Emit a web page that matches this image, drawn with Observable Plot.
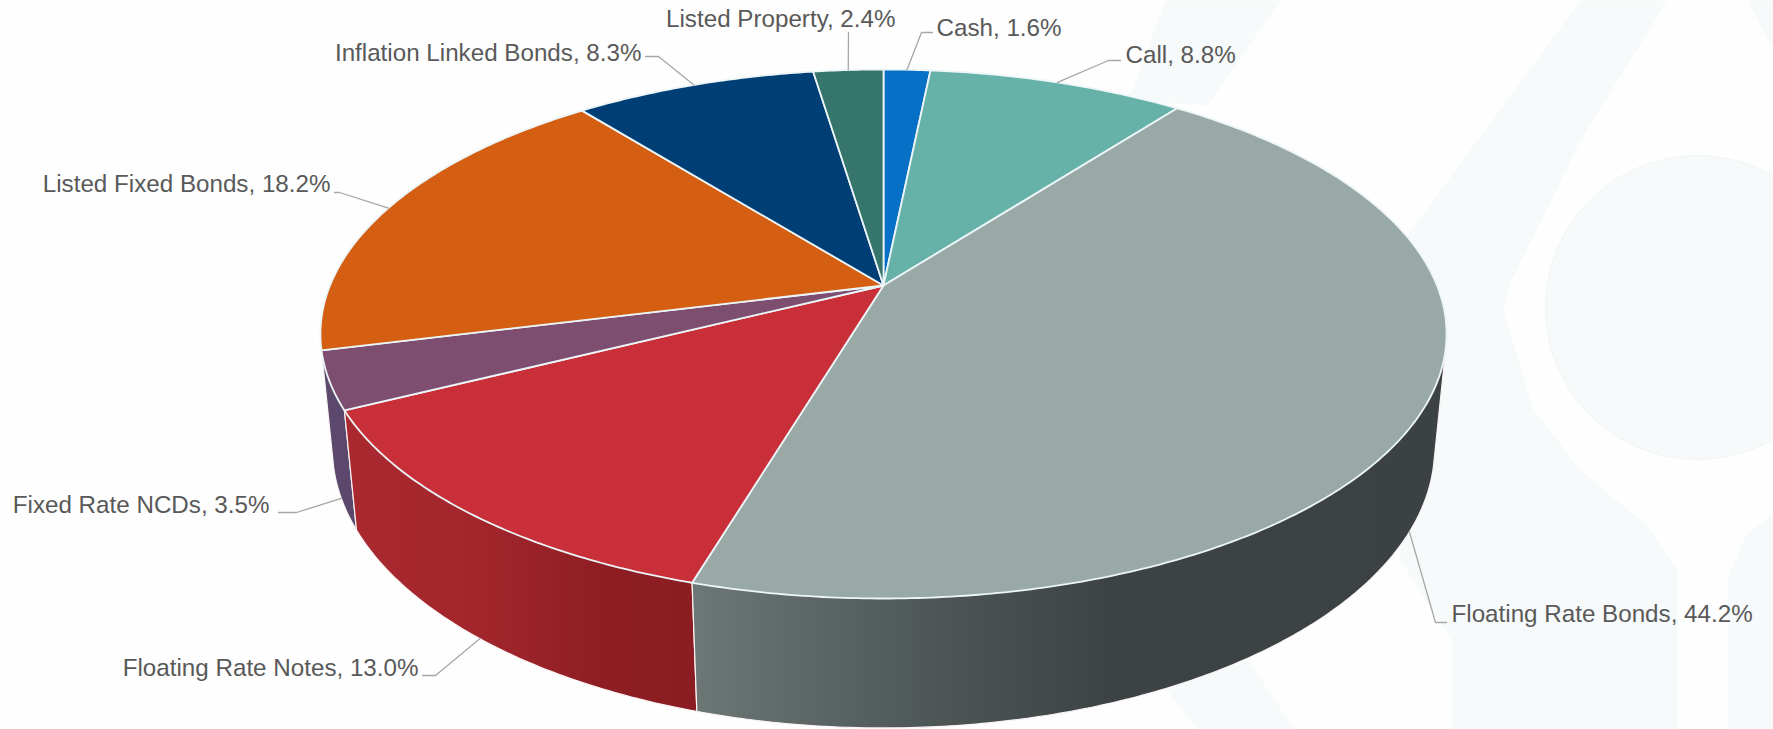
<!DOCTYPE html>
<html>
<head>
<meta charset="utf-8">
<script src="https://cdn.jsdelivr.net/npm/d3@7"></script>
<script src="https://cdn.jsdelivr.net/npm/@observablehq/plot@0.6"></script>
<style>
html,body{margin:0;padding:0;background:#fefefe;overflow:hidden}
</style>
</head>
<body>
<div id="chart"></div>
<script>
// Portfolio allocation, clockwise from twelve o'clock
const categories = ["Cash","Call","Floating Rate Bonds","Floating Rate Notes","Fixed Rate NCDs","Listed Fixed Bonds","Inflation Linked Bonds","Listed Property"];
const shares = [1.6,8.8,44.2,13.0,3.5,18.2,8.3,2.4];
const topColors = ["#0670c6","#66b2a9","#99a9a5","#c92f39","#7d4e70","#d45f12","#003f75","#36756b"];

// Label placement: text position, then leader elbow and end
const labelAnchorX = [936,1125,1451,418,269,330,641,895];
const labelY = [28,55,614,668,505,184,53,19];
const labelTextAnchor = ["start","start","start","end","end","end","end","end"];
const elbowX = [921,1108,1435,435,296,339,658,848];
const elbowY = [32,60,622,675,512,192,56,32];
const leaderEndX = [932,1120,1446,422,278,334,645,848];

// Side wall shading, as [x, colour] stops
const wallStops = {
  "Floating Rate Bonds": [[692,"#6c7776"],[820,"#5b6565"],[960,"#4b5353"],[1110,"#3d4345"],[1450,"#3c4244"]],
  "Floating Rate Notes": [[344,"#a9292f"],[480,"#a2262c"],[600,"#8e1e24"],[696,"#8a1c22"]],
  "Fixed Rate NCDs": [[320,"#5e4a6e"],[360,"#5a466a"]]
};

// Faint backdrop shapes
const backdropShapes = [
  [[1165,0],[1128,100],[1207,105],[1280,0]],
  [[1580,0],[1407,235],[1400,560],[1451,640],[1451,729],[1677,729],[1677,570],[1647,525],[1580,470],[1533,409],[1503,310],[1511,280],[1580,140],[1667,0]],
  [[1773,512],[1745,535],[1727,577],[1727,729],[1773,729]],
  [[1747,0],[1773,50],[1773,0]],
  [[1165,688],[1197,729],[1294,729],[1248,660]]
];
const backdropDisc = {x: 1697, y: 307, r: 152};

// Pie projection: a tilted disc seen in perspective from above
const cx = 883, cy = 285, sx = 553.5, sy = 255.6, k = 0.1834, drop = 115, q = 0.021;
function project(angle, level) {
  const X = Math.sin(angle), Y = -Math.cos(angle);
  const w = 1 - k * Y + q * level;
  return [cx + sx * X / w, cy + (sy * Y + drop * level) / w];
}
function arc(a0, a1, level) {
  const n = Math.max(2, Math.ceil((a1 - a0) / 0.01));
  return d3.range(n + 1).map(i => project(a0 + (a1 - a0) * i / n, level));
}

const cum = d3.cumsum(shares);
const total = d3.sum(shares);
const angleAt = v => v / total * 2 * Math.PI;
const slices = categories.map((name, i) => {
  const a0 = angleAt(cum[i] - shares[i]), a1 = angleAt(cum[i]);
  return {name, i, a0, a1, mid: (a0 + a1) / 2, color: topColors[i]};
});

const topRows = slices.flatMap(s =>
  [[cx, cy], ...arc(s.a0, s.a1, 0), [cx, cy]].map(([x, y]) => ({x, y, name: s.name, color: s.color})));

// Each wall is the hull of its upper and lower rims; the top faces cover the inner chord
const wallRows = slices.filter(s => wallStops[s.name]).reverse().flatMap(s => {
  const ring = d3.polygonHull([...arc(s.a0, s.a1, 0), ...arc(s.a0, s.a1, 1)]);
  ring.push(ring[0]);
  return ring.map(([x, y]) => ({x, y, name: s.name, fill: `url(#wall-${s.i})`}));
});

// A leader starts at the slice's outer edge; it sits on the wall's lower rim for front slices
const leaderRows = slices.flatMap((s, i) => {
  const onWall = s.mid > Math.PI / 2 && s.mid < 1.45 * Math.PI;
  const [x0, y0] = project(s.mid, onWall ? 1 : 0);
  return [[x0, y0], [elbowX[i], elbowY[i]], [leaderEndX[i], elbowY[i]]].map(([x, y]) => ({x, y, name: s.name}));
});

const labelRows = slices.map((s, i) => ({
  x: labelAnchorX[i], y: labelY[i], anchor: labelTextAnchor[i],
  text: `${s.name}, ${shares[i].toFixed(1)}%`
}));

const shapeRows = backdropShapes.flatMap((b, i) => [...b, b[0]].map(([x, y]) => ({x, y, i})));

// Gradients for the side walls, placed in x-scale coordinates
function wallGradients(index, scales) {
  const ns = "http://www.w3.org/2000/svg";
  const defs = document.createElementNS(ns, "defs");
  slices.filter(s => wallStops[s.name]).forEach(s => {
    const stops = wallStops[s.name];
    const g = document.createElementNS(ns, "linearGradient");
    const x0 = stops[0][0], x1 = stops[stops.length - 1][0];
    g.setAttribute("id", `wall-${s.i}`);
    g.setAttribute("gradientUnits", "userSpaceOnUse");
    g.setAttribute("x1", scales.x(x0));
    g.setAttribute("x2", scales.x(x1));
    g.setAttribute("y1", 0);
    g.setAttribute("y2", 0);
    stops.forEach(([x, c]) => {
      const st = document.createElementNS(ns, "stop");
      st.setAttribute("offset", (x - x0) / (x1 - x0));
      st.setAttribute("stop-color", c);
      g.appendChild(st);
    });
    defs.appendChild(g);
  });
  return defs;
}

const labelFont = {x: "x", y: "y", text: "text", fill: "#595959", fontSize: 24.2, fontFamily: "Liberation Sans, Arial, sans-serif"};
const W = 1773, H = 729;
const chart = Plot.plot({
  width: W, height: H,
  margin: 0,
  style: {background: "#fefefe", display: "block"},
  x: {domain: [0, W], range: [0, W], axis: null},
  y: {domain: [0, H], range: [0, H], axis: null},
  marks: [
    Plot.line(shapeRows, {x: "x", y: "y", z: "i", fill: "#f7fafa", curve: "linear"}),
    Plot.dot([backdropDisc], {x: "x", y: "y", r: backdropDisc.r, fill: "#f7fafa", stroke: "#f3f5f5", strokeWidth: 1}),
    wallGradients,
    Plot.line(wallRows, {x: "x", y: "y", z: "name", fill: "fill", stroke: "#fbf4f4", strokeWidth: 1.2, curve: "linear"}),
    Plot.line(topRows, {x: "x", y: "y", z: "name", fill: "color", stroke: "#ecf5f7", strokeWidth: 1.8, strokeLinejoin: "round", curve: "linear"}),
    Plot.line(leaderRows, {x: "x", y: "y", z: "name", stroke: "#a6a6a6", strokeWidth: 1.3, curve: "linear"}),
    Plot.text(labelRows.filter(d => d.anchor === "start"), {...labelFont, textAnchor: "start"}),
    Plot.text(labelRows.filter(d => d.anchor === "end"), {...labelFont, textAnchor: "end"})
  ]
});
document.getElementById("chart").appendChild(chart);
</script>
</body>
</html>
